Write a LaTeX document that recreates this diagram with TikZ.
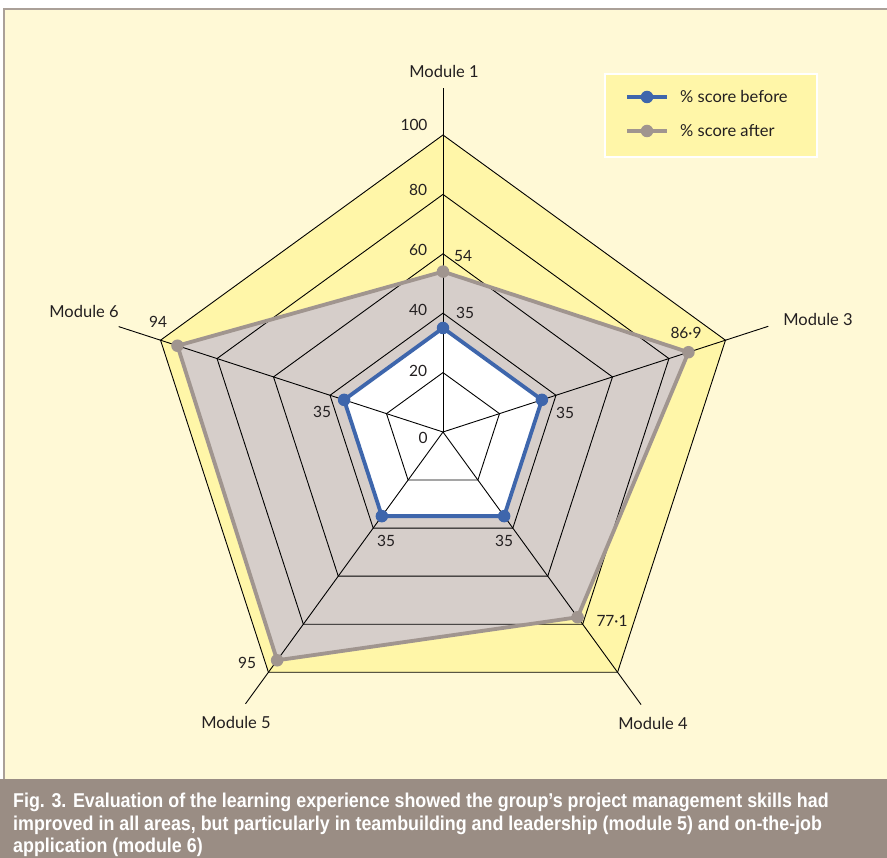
\documentclass[tikz,border=0pt]{standalone}
\usepackage{fontspec}
\setmainfont{Lato}
\newfontfamily\capfont[FakeStretch=0.893]{Liberation Sans}
\usetikzlibrary{positioning, calc}
\definecolor{panelyellow}{RGB}{255,249,214}
\definecolor{paneledge}{RGB}{170,160,152}
\definecolor{chartyellow}{RGB}{255,246,168}
\definecolor{afterfill}{RGB}{214,206,202}
\definecolor{aftergray}{RGB}{160,149,143}
\definecolor{beforeblue}{RGB}{62,102,172}
\definecolor{captiongray}{RGB}{154,141,132}
\definecolor{labeltext}{RGB}{35,31,32}

\begin{document}
\begin{tikzpicture}[
    x=1pt, y=1pt,
    grid/.style={draw=black, line width=0.9pt},
    before/.style={draw=beforeblue, line width=3.8pt, line join=round},
    after/.style={draw=aftergray, line width=3.8pt, line join=round},
    beforedot/.style={circle, fill=beforeblue, inner sep=0pt, minimum size=12.5pt},
    afterdot/.style={circle, fill=aftergray, inner sep=0pt, minimum size=12.5pt},
    vallabel/.style={font=\fontsize{15.5}{18}\selectfont, text=labeltext, inner sep=0pt},
    modlabel/.style={font=\fontsize{16.5}{19}\selectfont, text=labeltext, inner sep=0pt},
    captext/.style={anchor=base west, inner sep=0pt, text=white, font=\capfont\bfseries\fontsize{20}{23}\selectfont}
]
    \useasboundingbox (0,0) rectangle (887,858);

    % Panel and caption band
    \fill[white] (0,0) rectangle (887,858);
    \fill[panelyellow] (3,79) rectangle (887,850);
    \draw[paneledge, line width=2pt] (4,79) -- (4,849) -- (887,849);
    \fill[captiongray] (0,0) rectangle (887,79);

    % Radar chart
    \begin{scope}[shift={(443,426)}]
        \coordinate (c) at (0,0);
        % scores (2.97pt per percent)
        \coordinate (b1) at (90:104);
        \coordinate (b3) at (18:104);
        \coordinate (b4) at (-54:104);
        \coordinate (b5) at (-126:104);
        \coordinate (b6) at (162:104);
        \coordinate (a1) at (90:160.4);
        \coordinate (a3) at (18:258.1);
        \coordinate (a4) at (-54:229);
        \coordinate (a5) at (-126:282.2);
        \coordinate (a6) at (162:279.2);

        \fill[chartyellow] (90:297) -- (18:297) -- (-54:297) -- (-126:297) -- (162:297) -- cycle;
        \fill[afterfill] (a1) -- (a3) -- (a4) -- (a5) -- (a6) -- cycle;
        \fill[white] (b1) -- (b3) -- (b4) -- (b5) -- (b6) -- cycle;

        % Rings and spokes
        \foreach \r in {59.4,118.8,178.2,237.6,297}
            \draw[grid] (90:\r) -- (18:\r) -- (-54:\r) -- (-126:\r) -- (162:\r) -- cycle;
        \coordinate (e1) at (90:344);
        \coordinate (e3) at (18:342);
        \coordinate (e4) at (-54:337);
        \coordinate (e5) at (-126:336);
        \coordinate (e6) at (162:341);
        \foreach \e in {e1,e3,e4,e5,e6}
            \draw[grid] (c) -- (\e);

        % Score lines
        \draw[after] (a1) -- (a3) -- (a4) -- (a5) -- (a6) -- cycle;
        \draw[before] (b1) -- (b3) -- (b4) -- (b5) -- (b6) -- cycle;
        \foreach \p in {a1,a3,a4,a5,a6}
            \node[afterdot] (dot-\p) at (\p) {};
        \foreach \p in {b1,b3,b4,b5,b6}
            \node[beforedot] (dot-\p) at (\p) {};
    \end{scope}

    % Axis scale
    \node[vallabel] (s100) at (414,733) {100};
    \node[vallabel] (s80) at (418,668) {80};
    \node[vallabel] (s60) at (418,608) {60};
    \node[vallabel] (s40) at (418,548) {40};
    \node[vallabel] (s20) at (418,487) {20};
    \node[vallabel] (s0) at (423,420) {0};

    % Module names
    \node[modlabel] (m1) at (444,786) {Module 1};
    \node[modlabel] (m3) at (818,538) {Module 3};
    \node[modlabel] (m4) at (653,135) {Module 4};
    \node[modlabel] (m5) at (236,136) {Module 5};
    \node[modlabel] (m6) at (84,546) {Module 6};

    % Score values
    \node[vallabel] (v1a) at (463,602) {54};
    \node[vallabel] (v1b) at (465,545) {35};
    \node[vallabel] (v3a) at (686,525) {86·9};
    \node[vallabel] (v3b) at (565,445) {35};
    \node[vallabel] (v4a) at (612,237) {77·1};
    \node[vallabel] (v4b) at (504,317) {35};
    \node[vallabel] (v5a) at (247,195) {95};
    \node[vallabel] (v5b) at (386,317) {35};
    \node[vallabel] (v6a) at (158,536) {94};
    \node[vallabel] (v6b) at (322,446) {35};

    % Legend
    \draw[white, fill=chartyellow, line width=2pt] (605,701) rectangle (817,784);
    \coordinate (lb1) at (627,761);
    \coordinate (lb2) at (667,761);
    \coordinate (la1) at (627,727);
    \coordinate (la2) at (667,727);
    \draw[before, line cap=butt] (lb1) -- (lb2);
    \node[beforedot] (lbdot) at ($(lb1)!0.5!(lb2)$) {};
    \draw[after, line cap=butt] (la1) -- (la2);
    \node[afterdot] (ladot) at ($(la1)!0.5!(la2)$) {};
    \node[modlabel, anchor=west] (lbtext) at (680,761) {\% score before};
    \node[modlabel, anchor=west] (latext) at (680,727) {\% score after};

    % Caption
    \node[captext] (cap1) at (13,50) {Fig. 3. Evaluation of the learning experience showed the group’s project management skills had};
    \node[captext] (cap2) at (13,27.5) {improved in all areas, but particularly in teambuilding and leadership (module 5) and on-the-job};
    \node[captext] (cap3) at (13,5) {application (module 6)};
\end{tikzpicture}
\end{document}
